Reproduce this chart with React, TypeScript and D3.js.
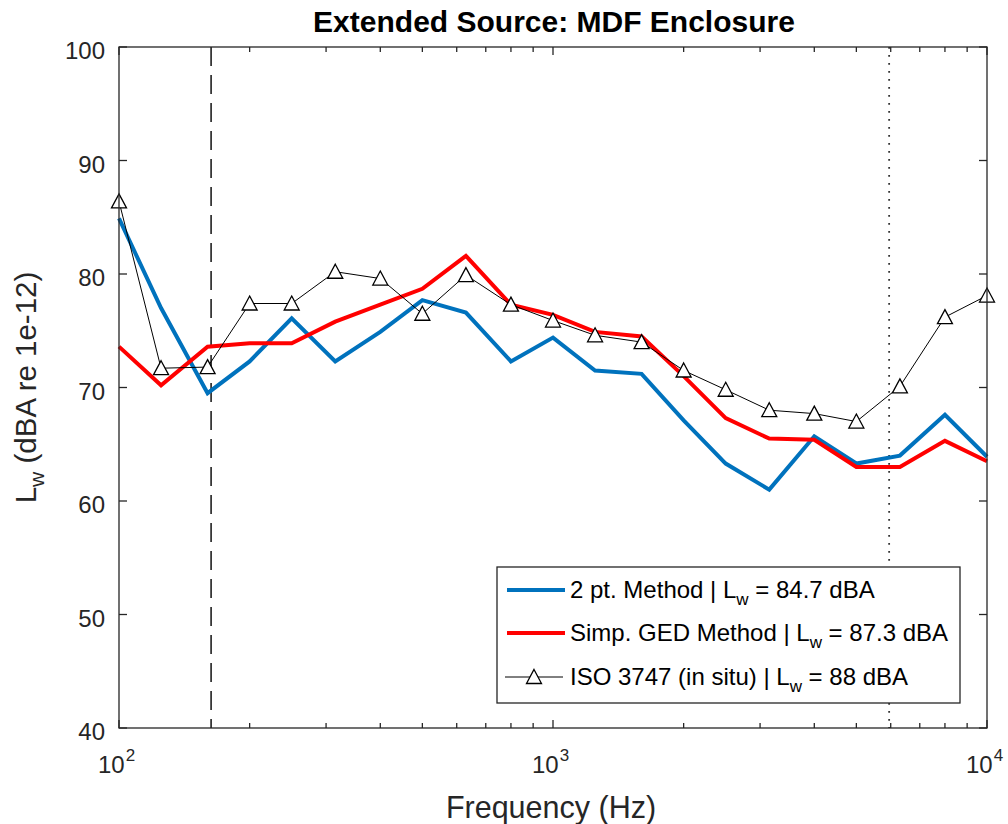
import React from "react";
import * as d3 from "d3";

// One-third-octave band centre frequencies (Hz)
const freqs = [100, 125, 160, 200, 250, 315, 400, 500, 630, 800, 1000, 1250, 1600, 2000, 2500, 3150, 4000, 5000, 6300, 8000, 10000];

// Band sound power levels, dBA re 1e-12 W
const twoPoint = [84.9, 77.0, 69.5, 72.3, 76.1, 72.3, 74.9, 77.7, 76.6, 72.3, 74.4, 71.5, 71.2, 67.1, 63.3, 61.0, 65.7, 63.3, 64.0, 67.6, 63.9];
const simpGed = [73.6, 70.2, 73.6, 73.9, 73.9, 75.8, 77.3, 78.7, 81.6, 77.3, 76.4, 74.9, 74.5, 71.0, 67.3, 65.5, 65.4, 63.0, 63.0, 65.3, 63.5];
const isoInSitu = [86.4, 71.7, 71.8, 77.4, 77.4, 80.2, 79.6, 76.5, 79.9, 77.3, 75.9, 74.6, 74.0, 71.5, 69.8, 68.0, 67.7, 67.0, 70.1, 76.2, 78.1];

// Validity limits of the measurement (Hz)
const lowerLimit = 163;
const upperLimit = 5950;

const yTicks = [40, 50, 60, 70, 80, 90, 100];
const xDecades = [2, 3, 4];

const legendItems = [
  { name: "2 pt. Method | L", sub: "w", rest: " = 84.7 dBA", kind: "blue" },
  { name: "Simp. GED Method | L", sub: "w", rest: " = 87.3 dBA", kind: "red" },
  { name: "ISO 3747 (in situ) | L", sub: "w", rest: " = 88 dBA", kind: "iso" },
];

const FONT = "'Liberation Sans', Arial, Helvetica, sans-serif";
const AXIS = "#262626";
const BLUE = "#0072BD";
const RED = "#FF0000";

const W = 1008;
const H = 824;
const left = 119;
const right = 987;
const top = 47;
const bottom = 728;

export default function App() {
  const x = d3.scaleLog().domain([100, 10000]).range([left, right]);
  const y = d3.scaleLinear().domain([40, 100]).range([bottom, top]);

  const line = d3
    .line<number>()
    .x((_, i) => x(freqs[i]))
    .y((v) => y(v));

  const minorTicks: number[] = [];
  for (const dec of [100, 1000]) {
    for (let k = 2; k <= 9; k++) minorTicks.push(dec * k);
  }

  const tri = "M0,-7.5 L7.5,6.5 L-7.5,6.5 Z";

  const legX = 497;
  const legY = 567;
  const legW = 463;
  const legH = 136;
  const rowYs = [590, 633, 677];

  return (
    <svg
      width={W}
      height={H}
      style={{ position: "absolute", left: 0, top: 0, background: "#fff" }}
      fontFamily={FONT}
    >
      <rect x={0} y={0} width={W} height={H} fill="#fff" />

      {/* plot background */}
      <rect x={left} y={top} width={right - left} height={bottom - top} fill="#fff" />

      {/* frequency limit markers */}
      <line x1={x(lowerLimit)} x2={x(lowerLimit)} y1={top} y2={bottom} stroke="#111" strokeWidth={1.5} strokeDasharray="19,9" />
      <line x1={x(upperLimit)} x2={x(upperLimit)} y1={top} y2={bottom} stroke="#333" strokeWidth={1.8} strokeDasharray="1.8,6.2" />

      {/* series */}
      <path d={line(twoPoint) || ""} fill="none" stroke={BLUE} strokeWidth={4} strokeLinejoin="miter" />
      <path d={line(simpGed) || ""} fill="none" stroke={RED} strokeWidth={4} strokeLinejoin="miter" />
      <path d={line(isoInSitu) || ""} fill="none" stroke="#000" strokeWidth={1} />
      {isoInSitu.map((v, i) => (
        <path key={i} d={tri} transform={`translate(${x(freqs[i])},${y(v)})`} fill="#fff" stroke="#000" strokeWidth={1.3} />
      ))}

      {/* axes box */}
      <rect x={left} y={top} width={right - left} height={bottom - top} fill="none" stroke={AXIS} strokeWidth={1.3} />

      {/* y ticks */}
      {yTicks.map((t) => (
        <g key={t}>
          <line x1={left} x2={left + 8} y1={y(t)} y2={y(t)} stroke={AXIS} strokeWidth={1.3} />
          <line x1={right} x2={right - 8} y1={y(t)} y2={y(t)} stroke={AXIS} strokeWidth={1.3} />
          <text x={left - 14} y={y(t) + 12} textAnchor="end" fontSize={24} fill={AXIS}>
            {t}
          </text>
        </g>
      ))}

      {/* x ticks */}
      {xDecades.map((p) => {
        const xv = x(Math.pow(10, p));
        return (
          <g key={p}>
            <line x1={xv} x2={xv} y1={bottom} y2={bottom - 8} stroke={AXIS} strokeWidth={1.3} />
            <line x1={xv} x2={xv} y1={top} y2={top + 8} stroke={AXIS} strokeWidth={1.3} />
            <text x={xv - 21} y={773} fontSize={24} fill={AXIS}>
              10
              <tspan dx={1} dy={-12} fontSize={17}>
                {p}
              </tspan>
            </text>
          </g>
        );
      })}
      {minorTicks.map((f) => (
        <g key={f}>
          <line x1={x(f)} x2={x(f)} y1={bottom} y2={bottom - 5} stroke={AXIS} strokeWidth={1.3} />
          <line x1={x(f)} x2={x(f)} y1={top} y2={top + 5} stroke={AXIS} strokeWidth={1.3} />
        </g>
      ))}

      {/* labels */}
      <text x={554} y={32} textAnchor="middle" fontSize={30} fontWeight="bold" fill="#000">
        Extended Source: MDF Enclosure
      </text>
      <text x={551} y={818} textAnchor="middle" fontSize={30.5} fill={AXIS}>
        Frequency (Hz)
      </text>
      <text transform={`translate(36,${(top + bottom) / 2}) rotate(-90)`} textAnchor="middle" fontSize={29.5} fill={AXIS}>
        L
        <tspan dy={8} fontSize={21}>w</tspan>
        <tspan dy={-8}> (dBA re 1e-12)</tspan>
      </text>

      {/* legend */}
      <rect x={legX} y={legY} width={legW} height={legH} fill="#fff" stroke={AXIS} strokeWidth={1.3} />
      {legendItems.map((item, i) => {
        const ry = rowYs[i];
        return (
          <g key={item.kind}>
            {item.kind === "iso" ? (
              <g>
                <line x1={505} x2={563} y1={ry} y2={ry} stroke="#000" strokeWidth={1} />
                <path d={tri} transform={`translate(534,${ry})`} fill="#fff" stroke="#000" strokeWidth={1.3} />
              </g>
            ) : (
              <line x1={507} x2={565} y1={ry} y2={ry} stroke={item.kind === "blue" ? BLUE : RED} strokeWidth={4} />
            )}
            <text x={570} y={ry + 8} fontSize={24} fill="#000">
              {item.name}
              <tspan dy={7} fontSize={17}>{item.sub}</tspan>
              <tspan dy={-7}>{item.rest}</tspan>
            </text>
          </g>
        );
      })}
    </svg>
  );
}
